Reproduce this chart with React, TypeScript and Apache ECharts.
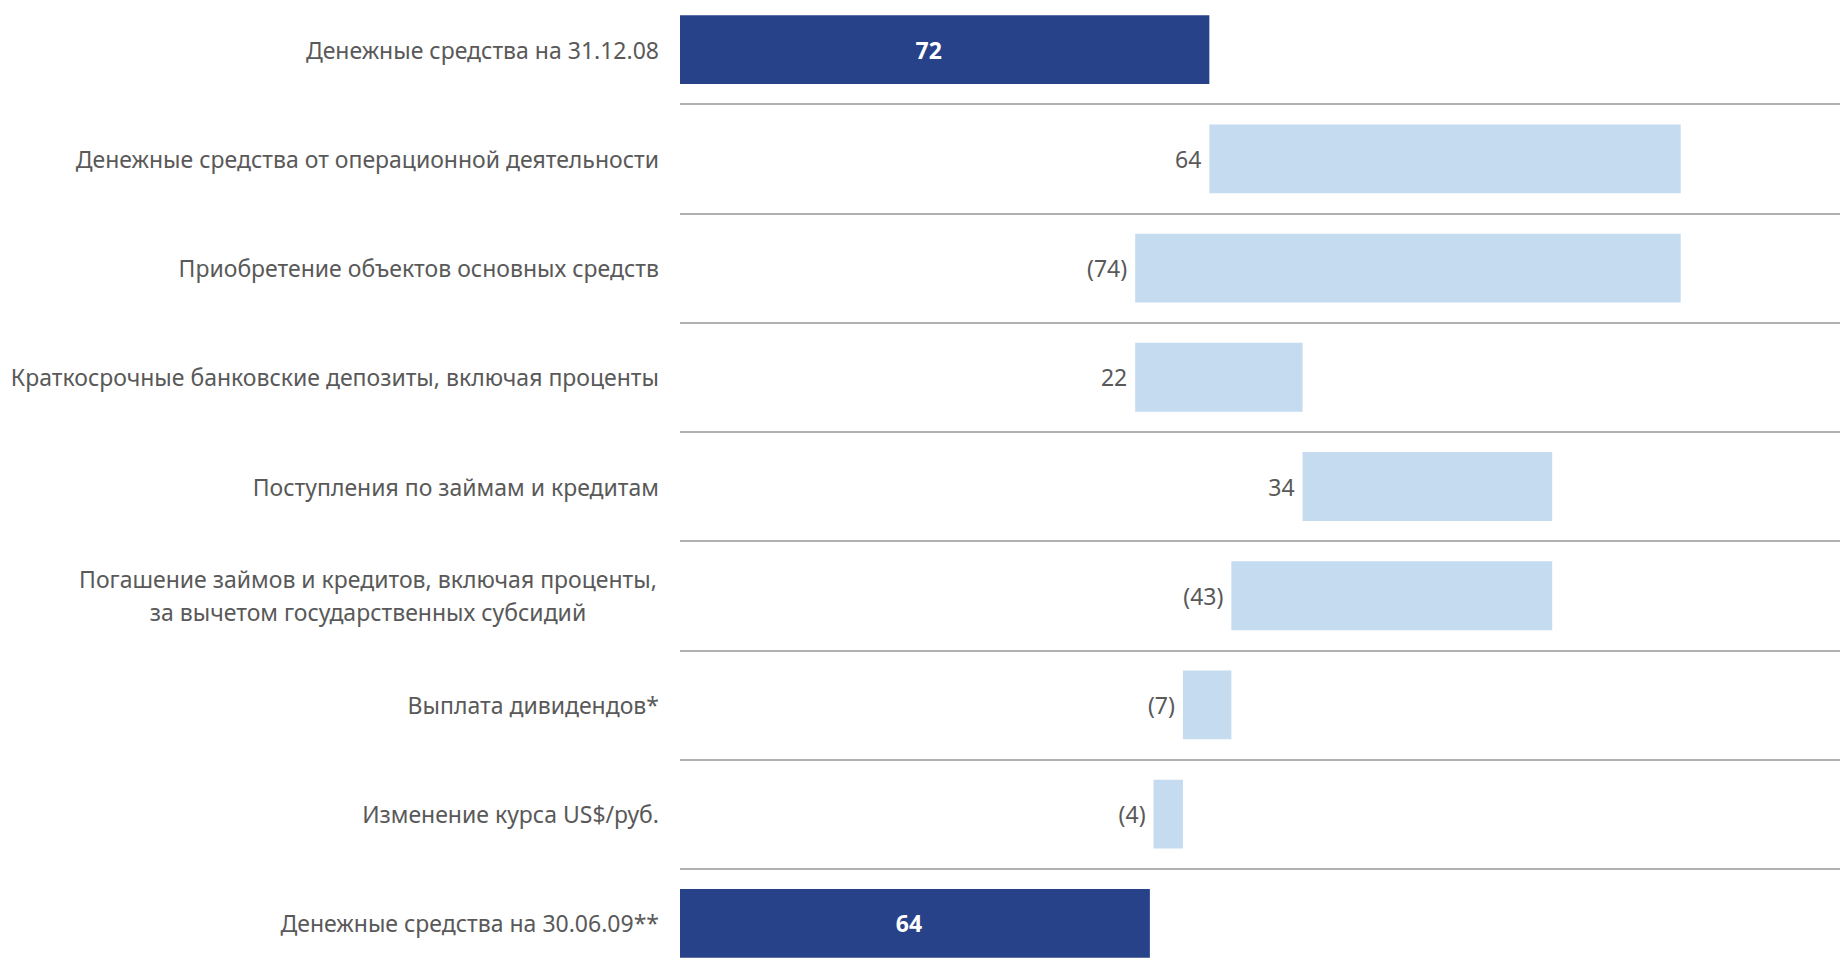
import React, { useEffect, useRef } from "react";
import * as echarts from "echarts";

const categories = [
  "Денежные средства на 31.12.08",
  "Денежные средства от операционной деятельности",
  "Приобретение объектов основных средств",
  "Краткосрочные банковские депозиты, включая проценты",
  "Поступления по займам и кредитам",
  "Погашение займов и кредитов, включая проценты,\nза вычетом государственных субсидий",
  "Выплата дивидендов*",
  "Изменение курса US$/руб.",
  "Денежные средства на 30.06.09**",
];

const openingBalance = 72.1;
const flowValues = [64.2, -74.3, 22.8, 34.0, -43.7, -6.6, -4.0];
const closingBalance = 64.0;
const valueLabels = ["72", "64", "(74)", "22", "34", "(43)", "(7)", "(4)", "64"];

const DARK = "#284289";
const LIGHT = "#c5dbf0";
const TEXT = "#595959";
const FONT = "'Noto Sans', 'Open Sans', sans-serif";

export default function App() {
  const ref = useRef<HTMLDivElement>(null);

  useEffect(() => {
    if (!ref.current) return;
    const chart = echarts.init(ref.current, null, { renderer: "svg" });

    const base: number[] = [0];
    const size: number[] = [openingBalance];
    let running = openingBalance;
    flowValues.forEach((f) => {
      if (f >= 0) {
        base.push(running);
        size.push(f);
      } else {
        base.push(running + f);
        size.push(-f);
      }
      running += f;
    });
    base.push(0);
    size.push(closingBalance);

    const lastIdx = categories.length - 1;
    const visibleData = size.map((v, i) => {
      const isTotal = i === 0 || i === lastIdx;
      return {
        value: v,
        itemStyle: { color: isTotal ? DARK : LIGHT },
        label: isTotal
          ? {
              show: true,
              position: "inside",
              color: "#ffffff",
              fontWeight: "bold",
              fontSize: 23,
              fontFamily: FONT,
              offset: [i === 0 ? -16 : -6, 0],
            }
          : {
              show: true,
              position: "left",
              distance: 8,
              color: TEXT,
              fontSize: 23,
              fontFamily: FONT,
            },
      };
    });

    chart.setOption({
      animation: false,
      backgroundColor: "#ffffff",
      grid: { left: 680, right: 0, top: 0, bottom: 0, containLabel: false },
      xAxis: {
        type: "value",
        min: 0,
        max: 158,
        show: false,
      },
      yAxis: {
        type: "category",
        inverse: true,
        data: categories,
        axisLine: { show: false },
        axisTick: { show: false },
        splitLine: { show: true, lineStyle: { color: "#b0b0b0", width: 2 } },
        axisLabel: {
          margin: 21,
          color: TEXT,
          fontSize: 23,
          fontFamily: FONT,
          lineHeight: 33,
          formatter: (v: string) => {
            if (v.indexOf("\n") >= 0) {
              return v
                .split("\n")
                .map((l) => "{c|" + l + "}")
                .join("\n");
            }
            return v;
          },
          rich: {
            c: {
              width: 582,
              align: "center",
              color: TEXT,
              fontSize: 23,
              fontFamily: FONT,
              lineHeight: 33,
            },
          },
        },
      },
      series: [
        {
          type: "bar",
          stack: "w",
          silent: true,
          barWidth: "63%",
          itemStyle: { color: "rgba(0,0,0,0)" },
          data: base,
        },
        {
          type: "bar",
          stack: "w",
          barWidth: "63%",
          data: visibleData,
          label: {
            show: true,
            formatter: (p: any) => valueLabels[p.dataIndex],
          },
        },
      ],
    });

    return () => chart.dispose();
  }, []);

  return (
    <div
      style={{
        position: "fixed",
        left: 0,
        top: 0,
        width: 1840,
        height: 973,
        overflow: "hidden",
        background: "#ffffff",
      }}
    >
      <div
        ref={ref}
        style={{ position: "absolute", left: 0, top: -5, width: 1840, height: 983 }}
      />
    </div>
  );
}
